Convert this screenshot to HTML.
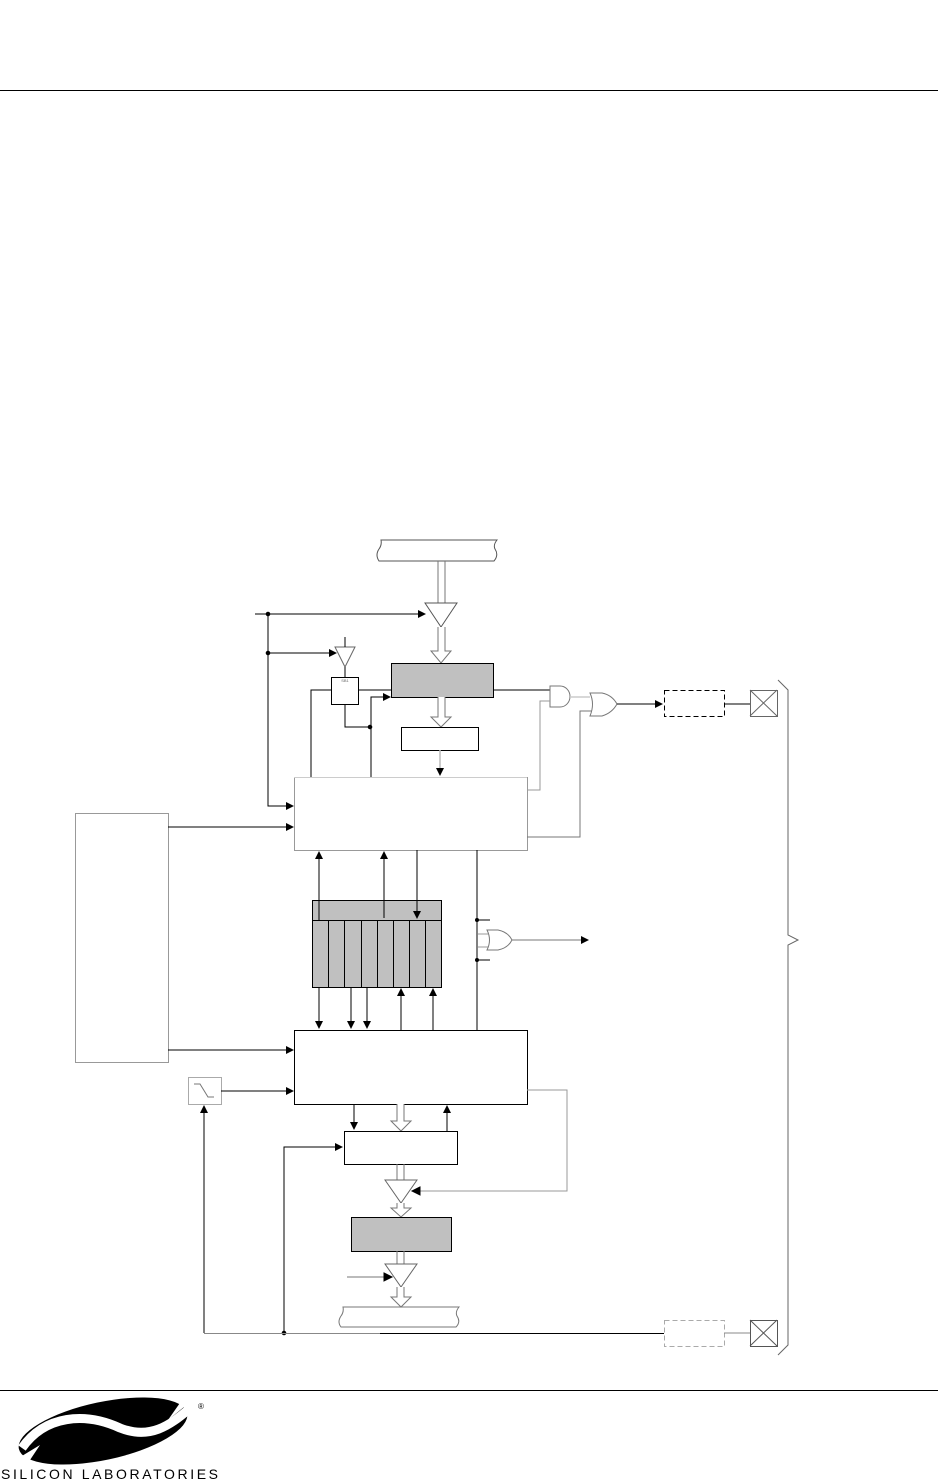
<!DOCTYPE html>
<html><head><meta charset="utf-8"><style>
html,body{margin:0;padding:0;background:#fff;width:938px;height:1481px;overflow:hidden}
svg{display:block}
</style></head><body>
<svg width="938" height="1481" viewBox="0 0 938 1481" xmlns="http://www.w3.org/2000/svg" font-family="Liberation Sans, sans-serif">
<defs>
<marker id="a" markerWidth="8" markerHeight="8" refX="7" refY="4" orient="auto" markerUnits="userSpaceOnUse"><path d="M0,0 L8,4 L0,8 z" fill="#000"/></marker>
</defs>
<line x1="0" y1="90.5" x2="938" y2="90.5" stroke="#000" stroke-width="1"/>
<line x1="0" y1="1390.5" x2="938" y2="1390.5" stroke="#000" stroke-width="1"/>

<g fill="none" stroke="#000" stroke-width="1">
<path d="M381,540 L497,540 Q493,545 495,549 Q499,555 494,561 L379,561 Q375,555 379,549 Q382,545 381,540z" stroke="#555"/>
<path d="M438,561 V603 M445,561 V603" stroke="#777"/>
<path d="M425,603 L457,603 L441,627 z" stroke="#555"/>
<path d="M438,627 V651 H431 L441,663 L451,651 H445 V627" stroke="#777" fill="#fff"/>
<rect x="391.5" y="663.5" width="102" height="34" fill="#c0c0c0"/>
<path d="M438,697 V717 H431 L441,727 L451,717 H445 V697" stroke="#777" fill="#fff"/>
<rect x="401.5" y="727.5" width="77" height="23"/>
<line x1="440" y1="750" x2="440" y2="770" stroke="#bbb" stroke-width="1.5"/>
<path d="M436,768 L444,768 L440,776z" fill="#000" stroke="none"/>

<line x1="255" y1="614" x2="425" y2="614" marker-end="url(#a)"/>
<path d="M268,614 V806 H293" marker-end="url(#a)"/>
<line x1="268" y1="653" x2="336" y2="653" marker-end="url(#a)"/>
<circle cx="268" cy="614" r="1.8" fill="#000"/><circle cx="268" cy="653" r="1.8" fill="#000"/>
<path d="M335,647 L355,647 L345,667z" stroke="#666"/>
<line x1="345" y1="637" x2="345" y2="647"/>
<line x1="345" y1="667" x2="345" y2="677"/>
<rect x="331.5" y="677.5" width="27" height="27"/>
<text x="345" y="682" font-size="4" text-anchor="middle" fill="#666" stroke="none">SB1</text>
<path d="M331,690 H311 V777"/>
<path d="M358,690 H391"/>
<path d="M345,704 V727 H370"/>
<circle cx="370" cy="727" r="1.8" fill="#000"/>
<path d="M371,777 V697 H390" marker-end="url(#a)"/>

<rect x="294.5" y="777.5" width="233" height="73" stroke="#999"/>
<line x1="294" y1="777.5" x2="527" y2="777.5" stroke="#ccc"/>
<path d="M493,690 H550" />
<path d="M550,686 H560 A10,10.5 0 0 1 560,707 H550 z" stroke="#777"/>
<path d="M527,790 H540 V701 H550" stroke="#999"/>
<path d="M570,697 H590" stroke="#ccc" stroke-width="1.5"/>
<path d="M590,693 H602 Q612,695 617,704 Q612,713 602,716 H590 Q595,704 590,693z" stroke="#777"/>
<path d="M527,837 H580 V711 H592" stroke="#777"/>
<line x1="617" y1="704" x2="662" y2="704" marker-end="url(#a)"/>
<rect x="664.5" y="690.5" width="60" height="26" stroke-dasharray="5,3"/>
<line x1="724" y1="704" x2="750" y2="704"/>
<rect x="750.5" y="690.5" width="27" height="26" stroke="#666"/>
<path d="M750,690 L777,716 M777,690 L750,716" stroke="#666"/>
<path d="M778,680 L788,690 V935 L798,940 L788,945 V1345 L778,1355" stroke="#666"/>

<rect x="312.5" y="900.5" width="129" height="87" fill="#c0c0c0"/>
<line x1="312" y1="920.5" x2="441" y2="920.5"/>
<path d="M328.5,920 V987 M344.5,920 V987 M361.5,920 V987 M377.5,920 V987 M393.5,920 V987 M409.5,920 V987 M425.5,920 V987"/>
<line x1="319" y1="920" x2="319" y2="852" marker-end="url(#a)"/>
<line x1="384" y1="918" x2="384" y2="852" marker-end="url(#a)"/>
<line x1="417" y1="850" x2="417" y2="918" marker-end="url(#a)"/>
<line x1="477" y1="850" x2="477" y2="1030"/>
<line x1="319" y1="988" x2="319" y2="1028" marker-end="url(#a)"/>
<line x1="351" y1="988" x2="351" y2="1028" marker-end="url(#a)"/>
<line x1="367" y1="988" x2="367" y2="1028" marker-end="url(#a)"/>
<line x1="401" y1="1030" x2="401" y2="989" marker-end="url(#a)"/>
<line x1="433" y1="1030" x2="433" y2="989" marker-end="url(#a)"/>
<circle cx="477" cy="920" r="1.5" fill="#000"/><circle cx="477" cy="960" r="1.5" fill="#000"/>
<path d="M477,920 H490 M477,960 H490"/>
<path d="M478,934 H488 M478,947 H488" stroke="#bbb" stroke-width="1.5"/>
<path d="M487,930 H498 Q508,932 512,940 Q508,948 498,950 H487 Q492,940 487,930z" stroke="#777"/>
<line x1="512" y1="940" x2="588" y2="940" stroke="#777" marker-end="url(#a)"/>

<rect x="75.5" y="813.5" width="93" height="249" stroke="#999"/>
<line x1="168" y1="827" x2="293" y2="827" marker-end="url(#a)"/>
<line x1="168" y1="1050" x2="293" y2="1050" marker-end="url(#a)"/>
<rect x="294.5" y="1030.5" width="233" height="74"/>
<rect x="188.5" y="1077.5" width="33" height="27" stroke="#aaa"/>
<path d="M194,1084 H200 L208,1097 H214" stroke="#777"/>
<line x1="221" y1="1091" x2="293" y2="1091" marker-end="url(#a)"/>
<line x1="204" y1="1333" x2="204" y2="1106" marker-end="url(#a)"/>
<line x1="354" y1="1104" x2="354" y2="1129" marker-end="url(#a)"/>
<path d="M397,1104 V1121 H391 L401,1131 L411,1121 H404 V1104" stroke="#777" fill="#fff"/>
<line x1="447" y1="1131" x2="447" y2="1106" marker-end="url(#a)"/>
<rect x="344.5" y="1131.5" width="113" height="33"/>
<path d="M284,1333 V1147 H342" marker-end="url(#a)"/>
<circle cx="284" cy="1333" r="1.8" fill="#000"/>
<path d="M527,1090 H567 V1191 H414" stroke="#999"/>
<path d="M420,1187 L412,1191 L420,1195z" fill="#000"/>
<path d="M397,1164 V1180 M404,1164 V1180" stroke="#777"/>
<path d="M385,1180 L417,1180 L401,1203 z" stroke="#666"/>
<path d="M397,1203 V1208 H391 L401,1217 L411,1208 H404 V1203" stroke="#777" fill="#fff"/>
<rect x="351.5" y="1217.5" width="100" height="34" fill="#c0c0c0"/>
<path d="M397,1251 V1264 M404,1251 V1264" stroke="#777"/>
<path d="M385,1264 L417,1264 L401,1287 z" stroke="#666"/>
<line x1="347" y1="1277" x2="390" y2="1277" stroke="#777"/>
<path d="M384,1273 L392,1277 L384,1281z" fill="#000"/>
<path d="M397,1287 V1297 H391 L401,1307 L411,1297 H404 V1287" stroke="#777" fill="#fff"/>
<path d="M343,1307 L459,1307 Q455,1312 457,1316 Q461,1322 456,1327 L341,1327 Q337,1322 341,1316 Q344,1312 343,1307z" stroke="#777"/>
<line x1="204" y1="1333.5" x2="380" y2="1333.5" stroke="#888"/>
<line x1="380" y1="1333.5" x2="664" y2="1333.5"/>
<rect x="664.5" y="1320.5" width="60" height="26" stroke="#aaa" stroke-dasharray="5,3"/>
<line x1="724" y1="1333" x2="750" y2="1333" stroke="#888"/>
<rect x="750.5" y="1320.5" width="27" height="26" stroke="#555"/>
<path d="M750,1320 L777,1346 M777,1320 L750,1346" stroke="#555"/>
</g>

<!-- logo -->
<g>
<ellipse cx="103" cy="1431" rx="86" ry="29" transform="rotate(-12 103 1431)" fill="#000"/>
<path d="M22,1448 C45,1415 85,1412 120,1428 C150,1440 170,1425 188,1410" fill="none" stroke="#fff" stroke-width="9"/>
<path d="M12,1462 L40,1445 L30,1460z M195,1398 L168,1420 L182,1400z" fill="#fff"/>
</g>
<text x="198" y="1409" font-size="8" fill="#000">®</text>
<text x="1" y="1479" font-size="14" fill="#000" textLength="217" lengthAdjust="spacing" transform="scale(1,1)">SILICON LABORATORIES</text>
</svg>
</body></html>
